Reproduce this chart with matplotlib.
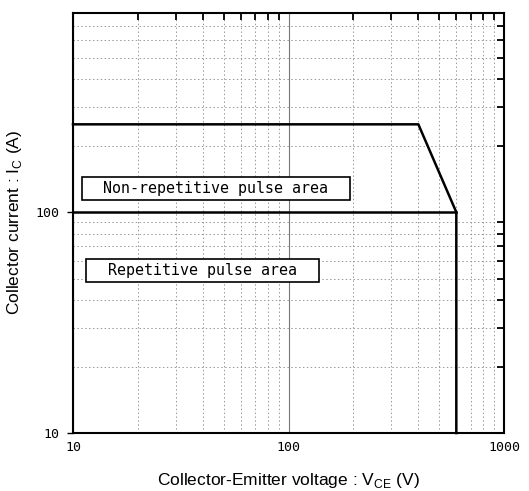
import matplotlib.pyplot as plt
from matplotlib.ticker import FixedLocator, NullFormatter

# safe operating area outline (V, A)
soa_v = [10, 400, 600, 600]
soa_i = [250, 250, 100, 10]
rep_v = [10, 600]
rep_i = [100, 100]

x_ticks = [10, 100, 1000]
y_ticks = [10, 100]
x_minor = [20, 30, 40, 50, 60, 70, 80, 90, 200, 300, 400, 500, 600, 700, 800, 900]
y_minor = [20, 30, 40, 50, 60, 70, 80, 90, 200, 300, 400, 500, 600, 700]

mono = 'DejaVu Sans Mono'

fig = plt.figure(figsize=(5.29, 4.91), dpi=100)
ax = fig.add_axes([0.138, 0.118, 0.815, 0.856])
ax.set_xscale('log')
ax.set_yscale('log')
ax.set_xlim(10, 1000)
ax.set_ylim(10, 800)

ax.xaxis.set_major_locator(FixedLocator(x_ticks))
ax.yaxis.set_major_locator(FixedLocator(y_ticks))
ax.xaxis.set_minor_locator(FixedLocator(x_minor))
ax.yaxis.set_minor_locator(FixedLocator(y_minor))
ax.xaxis.set_minor_formatter(NullFormatter())
ax.yaxis.set_minor_formatter(NullFormatter())
ax.set_xticklabels([str(v) for v in x_ticks], family=mono, fontsize=9.5)
ax.set_yticklabels([str(v) for v in y_ticks], family=mono, fontsize=9.5)

# grid
ax.grid(which='minor', color='#999999', linestyle=(0, (1.5, 2.5)), linewidth=0.7)
ax.grid(which='major', axis='x', color='#777777', linestyle='-', linewidth=0.8)

ax.tick_params(which='major', direction='in', length=0, pad=6)
ax.tick_params(which='minor', direction='in', length=5, width=1.3,
               right=True, top=True, left=False, bottom=False)
ax.tick_params(axis='y', which='major', direction='out', length=4, width=1, left=True)

for side in ['left', 'bottom', 'right', 'top']:
    ax.spines[side].set_linewidth(1.5)

ax.plot(soa_v, soa_i, color='black', linewidth=1.8, clip_on=False, zorder=5)
ax.plot(rep_v, rep_i, color='black', linewidth=1.8, clip_on=False, zorder=5)

box = dict(boxstyle='square,pad=0.25', facecolor='white', edgecolor='black', linewidth=1.2)
ax.text(46, 128, '  Non-repetitive pulse area  ', family=mono, fontsize=10.8,
        ha='center', va='center', bbox=box, zorder=6)
ax.text(39.8, 54.4, '  Repetitive pulse area  ', family=mono, fontsize=10.8,
        ha='center', va='center', bbox=box, zorder=6)

ax.set_xlabel(r'Collector-Emitter voltage : V$_{\mathregular{CE}}$ (V)',
              family='Liberation Sans', fontsize=12.5, labelpad=12)
ax.set_ylabel(r'Collector current : I$_{\mathregular{C}}$ (A)',
              family='Liberation Sans', fontsize=12.5, labelpad=8)

fig.savefig('out.png', dpi=100)
